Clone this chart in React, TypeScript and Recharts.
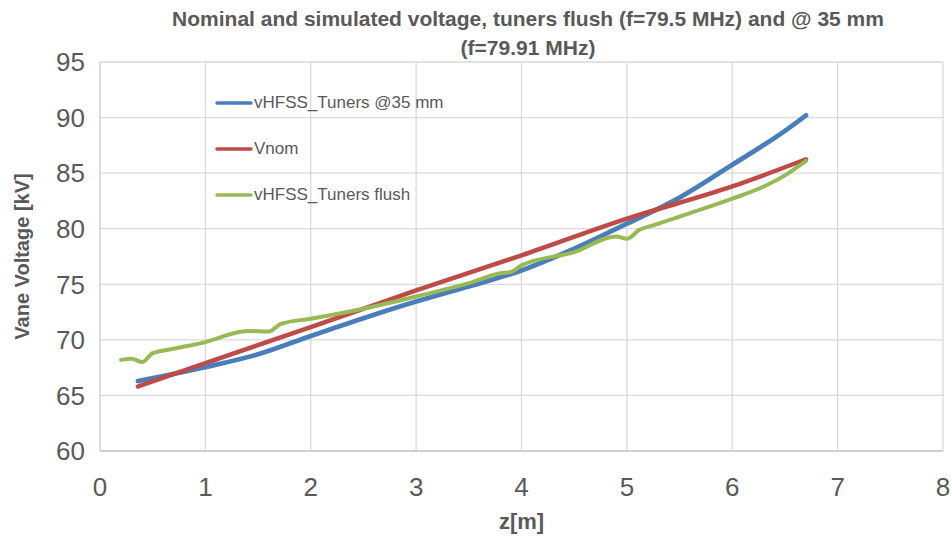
import { CartesianGrid, Legend, Line, LineChart, XAxis, YAxis } from 'recharts'

// vane voltage along the RFQ, z in metres, voltage in kV
const Z_TUNERS_35 = [0.36, 0.6, 1.0, 1.5, 2.0, 2.5, 3.0, 3.5, 4.0, 4.5, 5.0, 5.5, 6.0, 6.5, 6.7]
const V_TUNERS_35 = [66.3, 66.75, 67.55, 68.7, 70.35, 71.95, 73.45, 74.8, 76.25, 78.2, 80.45, 82.8, 85.75, 88.8, 90.2]

const Z_NOM = [0.36, 1, 2, 3, 4, 5, 6, 6.7]
const V_NOM = [65.8, 67.9, 71.15, 74.45, 77.6, 80.9, 83.8, 86.25]

const Z_FLUSH = [0.2, 0.3, 0.4, 0.5, 0.7, 1.0, 1.4, 1.6, 1.72, 2.0, 2.5, 3.0, 3.5, 3.8, 3.9, 4.0, 4.5, 4.9, 5.0, 5.12, 5.25, 5.6, 6.0, 6.3, 6.5, 6.7]
const V_FLUSH = [68.2, 68.3, 68.0, 68.8, 69.2, 69.8, 70.8, 70.75, 71.45, 71.9, 72.8, 73.9, 75.1, 76.0, 76.1, 76.7, 77.9, 79.3, 79.1, 79.9, 80.3, 81.4, 82.7, 83.8, 84.8, 86.1]

const SERIES_NAMES = ['vHFSS_Tuners @35 mm', 'Vnom', 'vHFSS_Tuners flush']

const X_TICKS = [0, 1, 2, 3, 4, 5, 6, 7, 8]
const Y_TICKS = [60, 65, 70, 75, 80, 85, 90, 95]

const TITLE_LINES = ['Nominal and simulated voltage, tuners flush (f=79.5 MHz) and @ 35 mm', '(f=79.91 MHz)']

const FONT = '"Liberation Sans Narrow", "Liberation Sans", Arial, sans-serif'
const TEXT_GREY = '#595959'
const GRID = '#d9d9d9'

const toPoints = (zs: number[], vs: number[]) => zs.map((z, i) => ({ z, v: vs[i] }))

const tuners35 = toPoints(Z_TUNERS_35, V_TUNERS_35)
const nominal = toPoints(Z_NOM, V_NOM)
const flush = toPoints(Z_FLUSH, V_FLUSH)

function VoltageAxisTitle(props: any) {
  const vb = props.viewBox || { y: 62, height: 389 }
  const cy = vb.y + vb.height / 2
  return (
    <text
      x={22}
      y={cy}
      transform={`rotate(-90 22 ${cy})`}
      textAnchor="middle"
      dominantBaseline="central"
      fill={TEXT_GREY}
      style={{ fontFamily: FONT, fontSize: 20, fontWeight: 700 }}
    >
      Vane Voltage [kV]
    </text>
  )
}

// legend keeps series order instead of alphabetical
function SeriesKey(props: any) {
  const items = [...(props.payload || [])].sort(
    (a: any, b: any) => SERIES_NAMES.indexOf(a.value) - SERIES_NAMES.indexOf(b.value),
  )
  return (
    <div style={{ fontFamily: FONT, fontSize: 17, color: TEXT_GREY }}>
      {items.map((it: any) => (
        <div key={it.value} style={{ display: 'flex', alignItems: 'center', height: 46 }}>
          <svg width={38} height={6} style={{ marginRight: 1 }}>
            <line x1={2} y1={3} x2={36} y2={3} stroke={it.color} strokeWidth={3.5} strokeLinecap="round" />
          </svg>
          <span>{it.value}</span>
        </div>
      ))}
    </div>
  )
}

export default function App() {
  return (
    <div style={{ position: 'absolute', left: 0, top: 0, width: 951, height: 539, background: '#fff' }}>
      <div
        style={{
          position: 'absolute',
          left: 528 - 400,
          top: 4,
          width: 800,
          textAlign: 'center',
          fontFamily: FONT,
          fontWeight: 700,
          fontSize: 21,
          lineHeight: '29px',
          color: TEXT_GREY,
        }}
      >
        {TITLE_LINES.map((t) => (
          <div key={t}>{t}</div>
        ))}
      </div>
      <LineChart width={951} height={539} margin={{ top: 62, right: 8, bottom: 38, left: 30 }}>
        <CartesianGrid stroke={GRID} strokeWidth={1.3} />
        <XAxis
          type="number"
          dataKey="z"
          domain={[0, 8]}
          ticks={X_TICKS}
          interval={0}
          height={50}
          tickSize={0}
          tickMargin={27}
          axisLine={{ stroke: '#c8c8c8', strokeWidth: 1.3 }}
          tick={{ fill: TEXT_GREY, fontSize: 26, fontFamily: FONT }}
          label={{
            value: 'z[m]',
            position: 'bottom',
            offset: 12,
            style: { fill: TEXT_GREY, fontSize: 22, fontWeight: 700, fontFamily: FONT },
          }}
        />
        <YAxis
          type="number"
          dataKey="v"
          domain={[60, 95]}
          ticks={Y_TICKS}
          interval={0}
          width={70}
          tickSize={0}
          tickMargin={15}
          axisLine={{ stroke: GRID, strokeWidth: 1.3 }}
          tick={{ fill: TEXT_GREY, fontSize: 26, fontFamily: FONT }}
          label={<VoltageAxisTitle />}
        />
        <Legend
          layout="vertical"
          align="center"
          verticalAlign="middle"
          content={<SeriesKey />}
          wrapperStyle={{ left: 215, top: 80, width: 260 }}
        />
        <Line
          data={tuners35}
          dataKey="v"
          name={SERIES_NAMES[0]}
          type="monotone"
          stroke="#4a7ebb"
          strokeWidth={4.75}
          strokeLinecap="round"
          dot={false}
          isAnimationActive={false}
        />
        <Line
          data={nominal}
          dataKey="v"
          name={SERIES_NAMES[1]}
          type="monotone"
          stroke="#be4b48"
          strokeWidth={4.5}
          strokeLinecap="round"
          dot={false}
          isAnimationActive={false}
        />
        <Line
          data={flush}
          dataKey="v"
          name={SERIES_NAMES[2]}
          type="monotone"
          stroke="#98b954"
          strokeWidth={4}
          strokeLinecap="round"
          dot={false}
          isAnimationActive={false}
        />
      </LineChart>
    </div>
  )
}
